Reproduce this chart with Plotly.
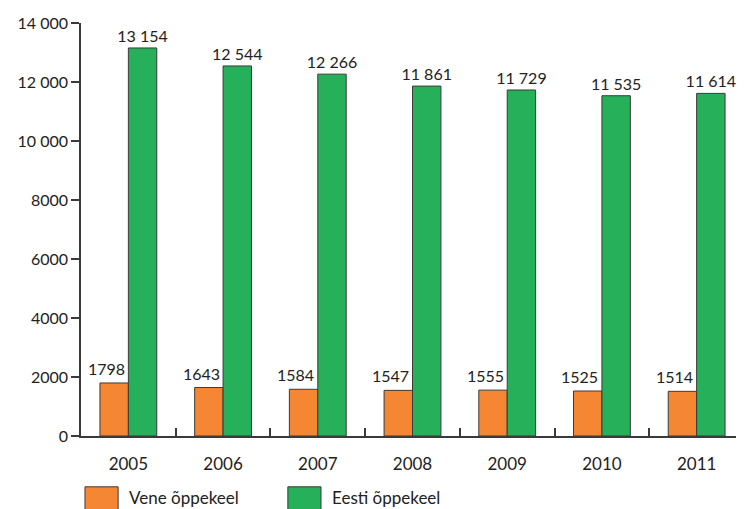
import plotly.graph_objects as go

# data
aastad = ["2005", "2006", "2007", "2008", "2009", "2010", "2011"]
vene = [1798, 1643, 1584, 1547, 1555, 1525, 1514]
eesti = [13154, 12544, 12266, 11861, 11729, 11535, 11614]
y_ticks = [0, 2000, 4000, 6000, 8000, 10000, 12000, 14000]
y_ticktext = ["0", "2000", "4000", "6000", "8000", "10 000", "12 000", "14 000"]

ORANGE = "#F58634"
GREEN = "#26B05A"
EDGE = "#3a3a3a"
FONT = "Lato"


def fmt(v):
    # numbers >= 10000 get a space as thousands separator
    return f"{v:,}".replace(",", " ") if v >= 10000 else str(v)


fig = go.Figure()

fig.add_trace(go.Bar(
    x=aastad, y=vene, name="Vene õppekeel",
    marker=dict(color=ORANGE, line=dict(color=EDGE, width=1)),
))
fig.add_trace(go.Bar(
    x=aastad, y=eesti, name="Eesti õppekeel",
    marker=dict(color=GREEN, line=dict(color=EDGE, width=1)),
    text=[fmt(v) for v in eesti], textposition="outside", cliponaxis=False,
    constraintext="none",
    textfont=dict(size=16, color="#222"),
))

# orange labels sit a little left of their bar so they don't run into the green one
# (category index as x: year-like strings would be read as indices)
for i, v in enumerate(vene):
    fig.add_annotation(x=i, y=v, text=str(v), showarrow=False,
                       xanchor="center", yanchor="bottom", xshift=-22, yshift=3,
                       font=dict(size=16, color="#222", family=FONT))

# legend drawn by hand so the swatches are as big as in the original
legend_items = [("Vene õppekeel", ORANGE, 0.0), ("Eesti õppekeel", GREEN, 0.306)]
for label, col, x0 in legend_items:
    fig.add_shape(type="rect", xref="paper", yref="paper",
                  x0=x0 + 0.006, x1=x0 + 0.056, y0=-0.18, y1=-0.123,
                  fillcolor=col, line=dict(color=EDGE, width=1))
    fig.add_annotation(x=x0 + 0.07, y=-0.148, xref="paper", yref="paper",
                       text=label, showarrow=False, xanchor="left", yanchor="middle",
                       font=dict(size=17, color="#222", family=FONT))

# the page adds an 8px body margin, so the figure is 8px smaller each way
fig.update_layout(
    width=736, height=501,
    margin=dict(l=73, r=0, t=15, b=73, autoexpand=False),
    barmode="group", bargap=0.4, bargroupgap=0,
    showlegend=False,
    plot_bgcolor="white", paper_bgcolor="white",
    font=dict(family=FONT, size=16, color="#222"),
)
fig.update_xaxes(
    type="category", range=[-0.5, 6.5], automargin=False,
    showline=True, linecolor=EDGE, linewidth=1.5,
    ticks="inside", tickson="boundaries", ticklen=8, tickcolor=EDGE, tickwidth=1.5,
    ticklabelstandoff=12,
    showgrid=False, tickfont=dict(size=17),
)
fig.update_yaxes(
    range=[0, 14000], tickvals=y_ticks, ticktext=y_ticktext, automargin=False,
    showline=True, linecolor=EDGE, linewidth=1.5,
    ticks="outside", ticklen=8, tickcolor=EDGE, tickwidth=1.5,
    showgrid=False, zeroline=False, tickfont=dict(size=16),
)

fig.write_html("out.html")
